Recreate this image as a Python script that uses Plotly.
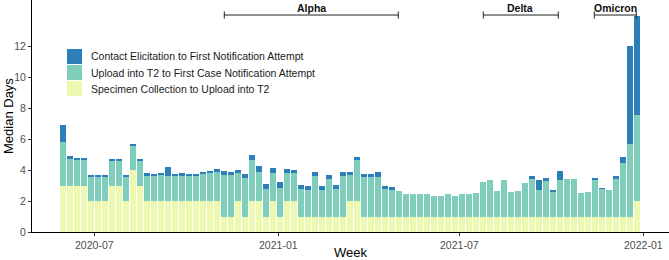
import datetime as dt
import plotly.graph_objects as go

# ---------------- data ----------------
start_week = dt.date(2020, 5, 31)
n_weeks = 83
weeks = [start_week + dt.timedelta(days=7 * i) for i in range(n_weeks)]

specimen_to_upload = [
    3, 3, 3, 3, 2, 2, 2, 3, 3, 2, 4, 3, 2, 2, 2, 2, 2, 2, 2, 2,
    2, 2, 2, 1, 1, 2, 1, 2, 2, 1, 2, 1, 2, 2, 1, 1, 1, 1, 1, 1,
    1, 2, 2, 1, 1, 1, 1, 1, 1, 1, 1, 1, 1, 1, 1, 1, 1, 1, 1, 1,
    1, 1, 1, 1, 1, 1, 1, 1, 1, 1, 1, 1, 1, 1, 1, 1, 1, 1, 1, 1,
    1, 1, 2,
]
upload_to_case_notification = [
    2.80, 1.70, 1.62, 1.62, 1.55, 1.55, 1.55, 1.55, 1.55, 1.55,
    1.57, 1.55, 1.61, 1.60, 1.68, 1.63, 1.60, 1.61, 1.60, 1.60,
    1.72, 1.81, 1.89, 2.70, 2.68, 1.80, 2.48, 2.62, 1.85, 1.77,
    1.81, 1.84, 1.80, 1.80, 1.77, 1.71, 2.61, 1.73, 2.42, 1.75,
    2.63, 1.68, 2.64, 2.57, 2.57, 2.57, 1.77, 1.73, 1.62, 1.47,
    1.45, 1.43, 1.43, 1.34, 1.34, 1.43, 1.34, 1.43, 1.43, 1.51,
    2.20, 2.37, 1.66, 2.37, 1.58, 1.62, 2.14, 2.42, 1.73, 2.27,
    1.60, 2.37, 2.44, 2.44, 1.54, 1.60, 2.37, 1.79, 1.71, 2.44,
    3.45, 4.70, 5.55,
]
contact_to_notification = [
    1.10, 0.18, 0.15, 0.15, 0.15, 0.15, 0.15, 0.16, 0.16, 0.15,
    0.13, 0.16, 0.17, 0.14, 0.15, 0.58, 0.14, 0.17, 0.14, 0.14,
    0.15, 0.14, 0.17, 0.25, 0.19, 0.22, 0.28, 0.32, 0.43, 0.33,
    0.32, 0.41, 0.24, 0.22, 0.26, 0.23, 0.26, 0.21, 0.23, 0.28,
    0.26, 0.17, 0.22, 0.17, 0.17, 0.28, 0.22, 0.19, 0.00, 0.00,
    0.00, 0.00, 0.00, 0.00, 0.00, 0.00, 0.00, 0.00, 0.00, 0.00,
    0.00, 0.00, 0.00, 0.00, 0.00, 0.00, 0.00, 0.19, 0.60, 0.19,
    0.11, 0.56, 0.00, 0.00, 0.00, 0.00, 0.11, 0.04, 0.00, 0.19,
    0.41, 6.32, 6.38,
]

series_names = [
    "Specimen Collection to Upload into T2",
    "Upload into T2 to First Case Notification Attempt",
    "Contact Elicitation to First Notification Attempt",
]
series_colors = ["#EDF8B1", "#7FCDBB", "#2C7FB8"]
series_values = [specimen_to_upload, upload_to_case_notification, contact_to_notification]

variant_names = ["Alpha", "Delta", "Omicron"]
variant_starts = ["2020-11-08", "2021-07-25", "2021-11-13"]
variant_ends = ["2021-05-01", "2021-10-08", "2021-12-25"]
variant_level = 14

x_tick_vals = ["2020-07-01", "2021-01-01", "2021-07-01", "2022-01-01"]
x_tick_text = ["2020-07", "2021-01", "2021-07", "2022-01"]
y_tick_vals = [0, 2, 4, 6, 8, 10, 12]

# ---------------- figure ----------------
FONT = "Liberation Sans, Arial, sans-serif"
W, H = 669, 260
ML, MR, MT, MB = 32, 0, 0, 28
PW, PH = W - ML - MR, H - MT - MB

fig = go.Figure()
day_ms = 86400000
for name, color, vals in zip(series_names, series_colors, series_values):
    fig.add_trace(go.Bar(
        x=weeks, y=vals, name=name, width=6 * day_ms,
        marker=dict(color=color, line=dict(width=0)),
        showlegend=False,
    ))

shapes = []
annotations = []

def mid_date(a, b):
    da = dt.date.fromisoformat(a)
    db = dt.date.fromisoformat(b)
    return (da + (db - da) / 2).isoformat()

# variant brackets
for name, s, e in zip(variant_names, variant_starts, variant_ends):
    line = dict(color="#222222", width=1)
    shapes.append(dict(type="line", xref="x", yref="y", x0=s, x1=e,
                       y0=variant_level, y1=variant_level, line=line))
    for xx in (s, e):
        shapes.append(dict(type="line", xref="x", yref="y", x0=xx, x1=xx,
                           y0=variant_level - 0.23, y1=variant_level + 0.23, line=line))
    annotations.append(dict(x=mid_date(s, e), y=variant_level, xref="x", yref="y",
                            text="<b>%s</b>" % name, showarrow=False,
                            yshift=7, yanchor="middle", xanchor="center",
                            font=dict(family=FONT, size=10.5, color="#111111")))

def px_x(p):
    return (p - ML) / PW

def px_y(p):
    return (MT + PH - p) / PH

# manual legend (top to bottom: reversed stacking order)
leg_left, leg_top, box, pitch = 67, 49, 15, 16
for k, (name, color) in enumerate(zip(series_names[::-1], series_colors[::-1])):
    top = leg_top + k * pitch
    shapes.append(dict(type="rect", xref="paper", yref="paper",
                       x0=px_x(leg_left), x1=px_x(leg_left + box),
                       y0=px_y(top + box), y1=px_y(top),
                       fillcolor=color, line=dict(width=0)))
    annotations.append(dict(x=px_x(leg_left + box + 7), y=px_y(top + box / 2),
                            xref="paper", yref="paper", text=name, showarrow=False,
                            xanchor="left", yanchor="middle",
                            font=dict(family=FONT, size=10.5, color="#1a1a1a")))

# axis titles as annotations
annotations.append(dict(x=px_x(350), y=px_y(252), xref="paper", yref="paper",
                        text="Week", showarrow=False, xanchor="center", yanchor="middle",
                        font=dict(family=FONT, size=13, color="black")))
annotations.append(dict(x=px_x(8), y=px_y(116), xref="paper", yref="paper",
                        text="Median Days", showarrow=False, textangle=-90,
                        xanchor="center", yanchor="middle",
                        font=dict(family=FONT, size=13, color="black")))

fig.update_layout(
    width=W, height=H,
    margin=dict(l=ML, r=MR, t=MT, b=MB, pad=0, autoexpand=False),
    barmode="stack",
    plot_bgcolor="white", paper_bgcolor="white",
    font=dict(family=FONT, size=10.5, color="#4D4D4D"),
    shapes=shapes, annotations=annotations,
    showlegend=False,
)
fig.update_xaxes(
    type="date", range=["2020-04-29 17:00", "2022-01-26 17:00"],
    tickvals=x_tick_vals, ticktext=x_tick_text,
    showgrid=False, zeroline=False, automargin=False,
    showline=True, linecolor="black", linewidth=1,
    ticks="outside", ticklen=3, tickcolor="#333333",
    tickfont=dict(family=FONT, size=10.5, color="#4D4D4D"),
)
fig.update_yaxes(
    range=[0, 14.97], tickvals=y_tick_vals,
    showgrid=False, zeroline=False, automargin=False,
    showline=True, linecolor="black", linewidth=1,
    ticks="outside", ticklen=3, tickcolor="#333333",
    tickfont=dict(family=FONT, size=10.5, color="#4D4D4D"),
)

fig.write_html(
    "out.html",
    config={"displayModeBar": False},
    post_script="document.body.style.margin='0px';document.body.style.overflow='hidden';",
)
